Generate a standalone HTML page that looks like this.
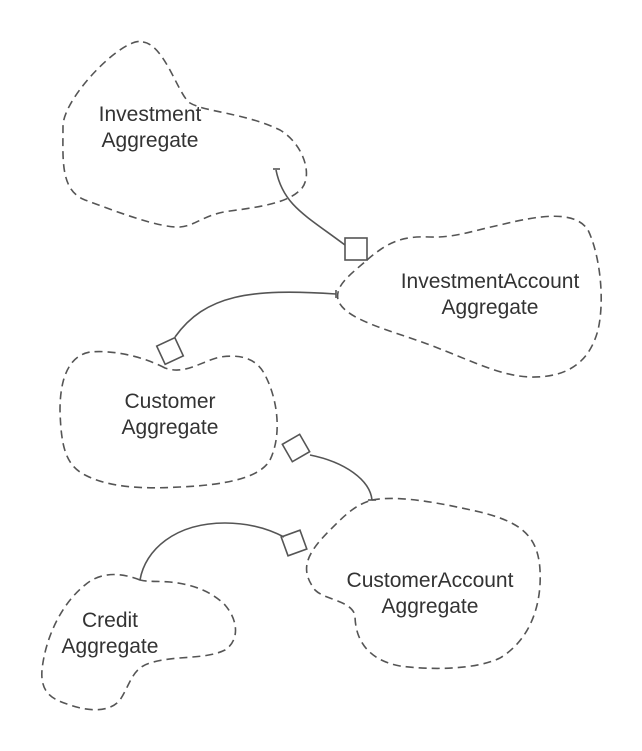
<!DOCTYPE html>
<html><head><meta charset="utf-8"><style>
html,body{margin:0;padding:0;background:#fff;}
svg{display:block}
text{font-family:"Liberation Sans",sans-serif;font-size:21px;fill:#333;text-anchor:middle}
.b{fill:none;stroke:#555;stroke-width:1.6;stroke-dasharray:8 5}
.c{fill:none;stroke:#555;stroke-width:1.6}
</style></head><body>
<svg width="642" height="751" viewBox="0 0 642 751">
<!-- Investment -->
<path class="b" d="M143,42 C165,45 178,95 190,103 C205,112 245,113 280,130 C305,145 315,180 298,192 C285,203 260,207 230,211 C205,214 195,226 180,227 C160,228 120,213 85,200 C60,190 63,160 63,125 C65,95 125,35 143,42 Z"/>
<text x="150" y="121">Investment</text>
<text x="150" y="147">Aggregate</text>
<path class="c" d="M276,170 C283,205 305,215 345,245"/>
<path class="c" d="M273,169 h7"/>
<rect class="c" x="345" y="238" width="22" height="22"/>
<!-- InvestmentAccount -->
<path class="b" d="M367,260 C390,240 405,236 430,237 C455,238 475,230 500,225 C540,215 575,210 588,230 C600,255 605,300 598,330 C590,360 570,378 530,377 C500,376 470,360 430,345 C390,330 345,320 338,300 C335,285 350,275 367,260 Z"/>
<text x="490" y="288">InvestmentAccount</text>
<text x="490" y="314">Aggregate</text>
<path class="c" d="M336,294 C250,288 205,295 175,337"/>
<path class="c" d="M336,290 v8"/>
<rect class="c" x="160" y="341" width="20" height="20" transform="rotate(-25 170 351)"/>
<!-- Customer -->
<path class="b" d="M165,368 C140,355 110,350 90,352 C68,356 60,380 60,410 C61,445 65,465 85,475 C110,488 145,489 180,487 C225,485 260,478 270,460 C282,435 278,400 265,375 C255,355 235,355 220,357 C200,362 185,375 165,368 Z"/>
<text x="170" y="408">Customer</text>
<text x="170" y="434">Aggregate</text>
<rect class="c" x="286" y="438" width="20" height="20" transform="rotate(-30 296 448)"/>
<path class="c" d="M310,455 C345,462 370,480 372,500"/>
<path class="c" d="M368,500 h8"/>
<!-- CustomerAccount -->
<path class="b" d="M372,500 C400,495 440,503 480,512 C520,522 538,535 540,570 C542,605 530,640 500,658 C475,670 430,670 400,666 C368,660 355,640 355,615 C350,600 325,600 315,590 C300,570 305,555 330,530 C345,515 355,505 372,500 Z"/>
<text x="430" y="587">CustomerAccount</text>
<text x="430" y="613">Aggregate</text>
<rect class="c" x="284" y="533" width="20" height="20" transform="rotate(-20 294 543)"/>
<path class="c" d="M284,537 C265,527 245,523 225,523 C175,523 145,550 140,580"/>
<!-- Credit -->
<path class="b" d="M140,580 C120,572 100,572 85,585 C60,605 45,640 42,670 C40,695 55,700 70,705 C90,712 110,712 120,700 C130,685 132,668 150,663 C175,655 205,660 225,650 C240,640 238,620 225,605 C210,590 190,584 170,582 C158,581 148,582 140,580 Z"/>
<text x="110" y="627">Credit</text>
<text x="110" y="653">Aggregate</text>
</svg>
</body></html>
